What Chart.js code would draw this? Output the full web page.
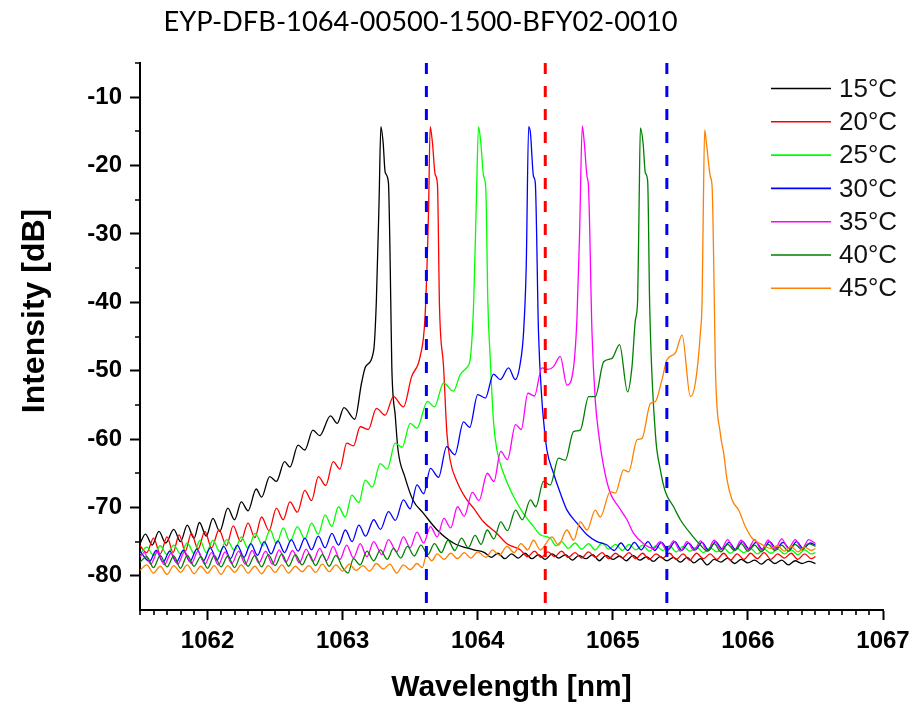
<!DOCTYPE html>
<html><head><meta charset="utf-8">
<script src="https://cdn.jsdelivr.net/npm/chart.js@4.4.1/dist/chart.umd.min.js"></script>
<style>html,body{margin:0;padding:0;background:#fff}canvas{display:block}</style>
</head><body>
<canvas id="c" width="920" height="706"></canvas>
<script>
const TITLE = 'EYP-DFB-1064-00500-1500-BFY02-0010';
const X_TITLE = 'Wavelength [nm]';
const Y_TITLE = 'Intensity [dB]';
const X_MIN = 1061.5, X_MAX = 1067, Y_MIN = -85, Y_MAX = -5;
const X_TICKS = [1062, 1063, 1064, 1065, 1066, 1067];
const Y_TICKS = [-80, -70, -60, -50, -40, -30, -20, -10];
const Y_MINOR = [-75, -65, -55, -45, -35, -25, -15, -5];
const X_MINOR_STEP = 0.1;
const MARKERS = [1063.62, 1064.5, 1065.4];
const LABELS = ['15°C', '20°C', '25°C', '30°C', '35°C', '40°C', '45°C'];

const S15 = [[1061.50,-75.3],[1061.54,-73.9],[1061.59,-75.5],[1061.64,-73.5],[1061.69,-75.2],[1061.75,-73.2],[1061.80,-75.0],[1061.85,-72.6],[1061.90,-74.5],[1061.94,-72.2],[1061.99,-74.2],[1062.04,-71.6],[1062.09,-73.5],[1062.15,-70.1],[1062.20,-71.8],[1062.25,-69.2],[1062.30,-70.5],[1062.36,-67.3],[1062.40,-68.5],[1062.46,-65.5],[1062.51,-66.2],[1062.57,-63.3],[1062.61,-64.1],[1062.67,-60.9],[1062.72,-61.6],[1062.78,-58.7],[1062.83,-59.5],[1062.91,-56.6],[1062.96,-57.7],[1063.01,-55.4],[1063.09,-57.1],[1063.14,-51.8],[1063.17,-49.4],[1063.23,-47.0],[1063.25,-39.6],[1063.27,-25.0],[1063.283,-14.3],[1063.30,-16.7],[1063.315,-21.0],[1063.339,-22.5],[1063.35,-32.0],[1063.356,-39.6],[1063.364,-49.4],[1063.39,-56.7],[1063.41,-61.6],[1063.46,-65.5],[1063.52,-68.9],[1063.60,-70.9],[1063.70,-73.3],[1063.82,-75.2],[1063.97,-76.2],[1064.05,-76.6],[1064.10,-77.3],[1064.15,-76.7],[1064.20,-77.5],[1064.25,-76.8],[1064.30,-77.4],[1064.35,-76.7],[1064.40,-77.5],[1064.45,-76.9],[1064.50,-77.6],[1064.55,-76.8],[1064.60,-77.4],[1064.65,-76.9],[1064.70,-77.7],[1064.75,-77.0],[1064.80,-77.5],[1064.85,-76.9],[1064.90,-77.8],[1064.95,-77.0],[1065.00,-77.6],[1065.05,-77.1],[1065.10,-77.8],[1065.15,-77.0],[1065.20,-77.7],[1065.25,-77.2],[1065.30,-77.9],[1065.35,-77.2],[1065.40,-77.8],[1065.45,-77.3],[1065.50,-78.0],[1065.55,-77.3],[1065.60,-78.1],[1065.65,-77.5],[1065.70,-78.4],[1065.75,-77.6],[1065.80,-78.0],[1065.85,-77.4],[1065.90,-78.2],[1065.95,-77.6],[1066.00,-78.1],[1066.05,-77.7],[1066.10,-78.3],[1066.15,-77.6],[1066.20,-78.2],[1066.25,-77.7],[1066.30,-78.4],[1066.35,-77.8],[1066.40,-78.2],[1066.45,-77.9],[1066.50,-78.2]];

const S20 = [[1061.50,-75.6],[1061.55,-76.6],[1061.60,-74.5],[1061.65,-76.8],[1061.70,-74.3],[1061.745,-76.6],[1061.79,-74.0],[1061.835,-76.4],[1061.88,-73.8],[1061.93,-76.1],[1061.98,-73.5],[1062.03,-75.9],[1062.085,-73.3],[1062.14,-75.6],[1062.19,-72.7],[1062.245,-75.0],[1062.30,-72.3],[1062.35,-74.4],[1062.40,-71.4],[1062.455,-73.4],[1062.51,-70.1],[1062.56,-71.8],[1062.61,-69.2],[1062.665,-70.7],[1062.72,-67.5],[1062.77,-69.0],[1062.82,-65.5],[1062.875,-66.8],[1062.93,-63.3],[1062.98,-64.4],[1063.03,-60.6],[1063.08,-61.0],[1063.13,-58.2],[1063.19,-58.6],[1063.25,-55.5],[1063.315,-56.5],[1063.376,-53.8],[1063.45,-55.3],[1063.51,-50.9],[1063.574,-47.9],[1063.61,-42.1],[1063.636,-26.5],[1063.648,-14.3],[1063.665,-16.7],[1063.685,-21.3],[1063.702,-22.8],[1063.717,-40.6],[1063.747,-49.4],[1063.772,-59.2],[1063.796,-63.1],[1063.846,-66.2],[1063.92,-68.9],[1063.969,-70.1],[1064.043,-72.1],[1064.142,-73.8],[1064.216,-75.3],[1064.315,-76.2],[1064.37,-77.2],[1064.42,-76.4],[1064.47,-77.3],[1064.52,-76.5],[1064.57,-77.2],[1064.62,-76.4],[1064.67,-77.3],[1064.72,-76.6],[1064.77,-77.4],[1064.82,-76.5],[1064.87,-77.3],[1064.92,-76.6],[1064.97,-77.5],[1065.02,-76.7],[1065.07,-77.4],[1065.12,-76.6],[1065.17,-77.5],[1065.22,-76.7],[1065.27,-77.6],[1065.32,-76.8],[1065.37,-77.4],[1065.42,-76.7],[1065.47,-77.6],[1065.52,-76.8],[1065.57,-77.7],[1065.62,-76.7],[1065.67,-77.5],[1065.72,-76.8],[1065.77,-77.6],[1065.82,-76.7],[1065.87,-77.7],[1065.92,-76.8],[1065.97,-77.6],[1066.02,-76.7],[1066.07,-77.5],[1066.12,-76.6],[1066.17,-77.6],[1066.22,-76.8],[1066.27,-77.4],[1066.32,-76.7],[1066.37,-77.6],[1066.42,-76.8],[1066.47,-77.5],[1066.50,-77.2]];

const S25 = [[1061.50,-76.8],[1061.55,-75.8],[1061.60,-77.0],[1061.65,-75.6],[1061.70,-76.9],[1061.75,-75.5],[1061.80,-76.8],[1061.85,-75.2],[1061.90,-76.7],[1061.944,-74.8],[1061.99,-76.6],[1062.04,-74.8],[1062.09,-76.5],[1062.142,-74.7],[1062.20,-76.3],[1062.25,-74.3],[1062.30,-76.0],[1062.352,-73.8],[1062.41,-75.6],[1062.463,-73.3],[1062.51,-75.3],[1062.561,-73.0],[1062.61,-75.0],[1062.665,-72.8],[1062.72,-74.6],[1062.77,-72.3],[1062.82,-73.9],[1062.87,-71.1],[1062.92,-72.8],[1062.969,-69.9],[1063.02,-71.4],[1063.068,-68.2],[1063.12,-69.3],[1063.167,-66.0],[1063.22,-67.0],[1063.278,-63.6],[1063.33,-64.4],[1063.389,-60.6],[1063.44,-61.2],[1063.50,-57.7],[1063.55,-58.4],[1063.628,-54.5],[1063.68,-55.3],[1063.747,-51.8],[1063.82,-53.0],[1063.87,-50.6],[1063.92,-49.5],[1063.945,-48.2],[1063.97,-40.0],[1063.99,-25.0],[1064.006,-14.3],[1064.023,-16.7],[1064.043,-21.5],[1064.06,-23.5],[1064.075,-40.0],[1064.093,-48.4],[1064.117,-57.5],[1064.142,-61.6],[1064.191,-65.0],[1064.265,-68.4],[1064.339,-70.9],[1064.413,-72.8],[1064.463,-74.0],[1064.537,-74.5],[1064.58,-75.6],[1064.62,-75.0],[1064.67,-76.0],[1064.72,-75.2],[1064.77,-76.1],[1064.82,-75.3],[1064.87,-76.2],[1064.92,-75.2],[1064.97,-76.1],[1065.02,-75.4],[1065.07,-76.3],[1065.12,-75.4],[1065.17,-76.2],[1065.22,-75.5],[1065.27,-76.4],[1065.32,-75.6],[1065.37,-76.3],[1065.42,-75.6],[1065.47,-76.5],[1065.52,-75.7],[1065.57,-76.4],[1065.62,-75.8],[1065.67,-76.6],[1065.72,-75.9],[1065.77,-76.5],[1065.82,-75.9],[1065.87,-76.7],[1065.92,-76.0],[1065.97,-76.6],[1066.02,-76.0],[1066.07,-76.8],[1066.12,-76.1],[1066.17,-76.7],[1066.22,-76.1],[1066.27,-76.8],[1066.32,-76.2],[1066.37,-76.9],[1066.42,-76.2],[1066.47,-76.8],[1066.50,-76.6]];

const S30 = [[1061.50,-76.4],[1061.57,-77.9],[1061.62,-76.3],[1061.67,-78.0],[1061.72,-76.4],[1061.77,-78.0],[1061.82,-76.3],[1061.87,-77.9],[1061.92,-76.1],[1061.97,-77.8],[1062.02,-75.9],[1062.07,-77.7],[1062.12,-75.7],[1062.17,-77.5],[1062.22,-75.5],[1062.27,-77.3],[1062.32,-75.3],[1062.37,-77.0],[1062.42,-75.0],[1062.47,-76.8],[1062.52,-74.9],[1062.57,-76.6],[1062.62,-74.7],[1062.67,-76.4],[1062.72,-74.5],[1062.77,-76.2],[1062.82,-74.2],[1062.87,-75.9],[1062.92,-73.8],[1062.97,-75.5],[1063.02,-73.3],[1063.07,-75.0],[1063.12,-72.6],[1063.17,-74.2],[1063.23,-71.8],[1063.28,-73.2],[1063.34,-70.6],[1063.39,-71.9],[1063.45,-68.9],[1063.50,-70.2],[1063.55,-66.7],[1063.60,-68.0],[1063.65,-64.3],[1063.71,-65.6],[1063.77,-61.1],[1063.83,-62.3],[1063.895,-57.5],[1063.94,-58.3],[1064.00,-53.5],[1064.056,-54.0],[1064.117,-50.5],[1064.167,-51.3],[1064.228,-49.6],[1064.278,-51.3],[1064.315,-48.9],[1064.339,-44.5],[1064.359,-34.8],[1064.377,-14.3],[1064.39,-15.2],[1064.413,-21.6],[1064.426,-22.5],[1064.45,-44.5],[1064.475,-54.3],[1064.487,-57.2],[1064.512,-61.6],[1064.561,-65.0],[1064.611,-67.9],[1064.661,-70.4],[1064.735,-72.3],[1064.809,-74.0],[1064.883,-75.0],[1064.957,-75.5],[1065.01,-76.3],[1065.06,-75.2],[1065.11,-76.3],[1065.16,-75.1],[1065.21,-76.2],[1065.26,-75.0],[1065.31,-76.3],[1065.36,-75.1],[1065.41,-76.2],[1065.46,-75.0],[1065.51,-76.3],[1065.56,-75.2],[1065.61,-76.2],[1065.66,-75.1],[1065.71,-76.3],[1065.76,-75.0],[1065.81,-76.1],[1065.86,-75.1],[1065.91,-76.2],[1065.96,-75.0],[1066.01,-76.1],[1066.06,-75.1],[1066.11,-76.2],[1066.16,-75.0],[1066.21,-76.0],[1066.26,-75.1],[1066.31,-76.1],[1066.36,-75.0],[1066.41,-76.0],[1066.46,-75.2],[1066.50,-75.5]];

const S35 = [[1061.50,-77.2],[1061.53,-76.6],[1061.58,-78.3],[1061.63,-76.5],[1061.68,-78.4],[1061.73,-76.7],[1061.78,-78.3],[1061.83,-76.5],[1061.88,-78.2],[1061.93,-76.4],[1061.98,-78.3],[1062.03,-76.6],[1062.08,-78.4],[1062.13,-76.5],[1062.18,-78.2],[1062.23,-76.4],[1062.28,-78.3],[1062.33,-76.3],[1062.38,-78.1],[1062.43,-76.4],[1062.48,-78.3],[1062.53,-76.2],[1062.58,-78.0],[1062.63,-76.3],[1062.68,-78.1],[1062.73,-76.1],[1062.78,-77.9],[1062.83,-76.0],[1062.88,-77.8],[1062.93,-75.7],[1062.98,-77.6],[1063.03,-75.5],[1063.08,-77.4],[1063.13,-75.3],[1063.18,-77.2],[1063.23,-75.0],[1063.29,-76.9],[1063.34,-74.7],[1063.40,-76.5],[1063.45,-74.3],[1063.50,-75.9],[1063.55,-73.6],[1063.60,-75.2],[1063.65,-72.8],[1063.70,-74.3],[1063.75,-71.6],[1063.80,-73.0],[1063.85,-69.9],[1063.90,-71.3],[1063.96,-67.8],[1064.01,-69.0],[1064.07,-65.0],[1064.12,-66.2],[1064.17,-61.8],[1064.22,-63.0],[1064.28,-57.9],[1064.322,-58.6],[1064.371,-53.3],[1064.42,-53.7],[1064.475,-49.6],[1064.52,-49.8],[1064.561,-49.4],[1064.611,-47.9],[1064.66,-52.1],[1064.71,-49.4],[1064.735,-42.1],[1064.754,-29.9],[1064.774,-14.2],[1064.789,-16.7],[1064.809,-21.6],[1064.82,-23.1],[1064.846,-44.5],[1064.87,-54.3],[1064.895,-59.2],[1064.932,-64.0],[1064.981,-67.9],[1065.043,-69.9],[1065.105,-71.8],[1065.154,-73.8],[1065.228,-75.3],[1065.302,-76.0],[1065.35,-75.0],[1065.40,-76.3],[1065.45,-74.9],[1065.50,-76.4],[1065.55,-75.0],[1065.60,-76.3],[1065.65,-74.9],[1065.70,-76.4],[1065.75,-74.8],[1065.80,-76.2],[1065.85,-74.7],[1065.90,-76.3],[1065.95,-74.8],[1066.00,-76.1],[1066.05,-74.7],[1066.10,-76.2],[1066.15,-74.8],[1066.20,-76.1],[1066.25,-74.6],[1066.30,-76.0],[1066.35,-74.7],[1066.40,-76.1],[1066.45,-74.7],[1066.50,-75.3]];

const S40 = [[1061.50,-78.0],[1061.55,-77.2],[1061.60,-78.8],[1061.65,-77.0],[1061.70,-78.7],[1061.75,-77.1],[1061.80,-78.9],[1061.85,-77.0],[1061.90,-78.6],[1061.95,-77.2],[1062.00,-78.9],[1062.05,-77.0],[1062.10,-78.7],[1062.15,-77.1],[1062.20,-78.8],[1062.25,-76.9],[1062.30,-78.6],[1062.35,-77.0],[1062.40,-78.7],[1062.45,-76.9],[1062.50,-78.5],[1062.55,-76.8],[1062.60,-78.6],[1062.65,-76.9],[1062.70,-78.4],[1062.75,-76.8],[1062.80,-78.5],[1062.85,-76.9],[1062.90,-78.6],[1062.95,-77.0],[1063.00,-78.8],[1063.04,-79.6],[1063.08,-77.5],[1063.13,-78.4],[1063.18,-76.4],[1063.23,-77.8],[1063.28,-76.2],[1063.33,-77.6],[1063.376,-76.0],[1063.43,-77.4],[1063.48,-75.7],[1063.53,-77.1],[1063.58,-75.5],[1063.63,-76.9],[1063.68,-75.3],[1063.73,-76.6],[1063.78,-74.8],[1063.83,-76.3],[1063.88,-74.5],[1063.93,-75.9],[1063.98,-74.1],[1064.025,-75.4],[1064.07,-73.3],[1064.12,-74.6],[1064.17,-72.1],[1064.22,-73.4],[1064.28,-70.4],[1064.33,-71.8],[1064.39,-68.9],[1064.43,-69.9],[1064.487,-66.2],[1064.537,-66.7],[1064.598,-62.8],[1064.648,-63.1],[1064.709,-58.9],[1064.759,-58.7],[1064.821,-53.8],[1064.87,-53.8],[1064.932,-48.7],[1064.994,-48.2],[1065.05,-46.2],[1065.109,-53.1],[1065.142,-49.4],[1065.167,-42.6],[1065.184,-39.6],[1065.195,-25.0],[1065.204,-14.5],[1065.224,-16.7],[1065.241,-21.1],[1065.258,-22.3],[1065.273,-40.6],[1065.315,-59.2],[1065.352,-64.5],[1065.389,-67.7],[1065.45,-69.9],[1065.50,-71.8],[1065.574,-73.8],[1065.648,-75.5],[1065.70,-76.4],[1065.75,-75.3],[1065.80,-76.5],[1065.85,-75.4],[1065.90,-76.3],[1065.95,-75.3],[1066.00,-76.4],[1066.05,-75.5],[1066.10,-76.5],[1066.15,-75.4],[1066.20,-76.3],[1066.25,-75.5],[1066.30,-76.4],[1066.35,-75.4],[1066.40,-76.2],[1066.45,-75.3],[1066.50,-75.7]];

const S45 = [[1061.50,-79.2],[1061.55,-78.4],[1061.60,-79.6],[1061.65,-78.6],[1061.70,-79.8],[1061.75,-78.5],[1061.80,-79.5],[1061.85,-78.4],[1061.90,-79.7],[1061.95,-78.6],[1062.00,-79.6],[1062.05,-78.5],[1062.10,-79.8],[1062.15,-78.5],[1062.20,-79.5],[1062.25,-78.4],[1062.30,-79.6],[1062.35,-78.6],[1062.40,-79.7],[1062.45,-78.5],[1062.50,-79.5],[1062.55,-78.4],[1062.60,-79.6],[1062.65,-78.6],[1062.70,-79.4],[1062.75,-78.5],[1062.80,-79.5],[1062.85,-78.3],[1062.90,-79.4],[1062.95,-78.4],[1063.00,-79.3],[1063.05,-78.3],[1063.10,-79.2],[1063.15,-78.5],[1063.20,-79.3],[1063.25,-78.2],[1063.30,-79.0],[1063.35,-78.3],[1063.40,-79.6],[1063.45,-78.4],[1063.50,-79.1],[1063.55,-78.2],[1063.59,-78.8],[1063.62,-77.0],[1063.66,-77.8],[1063.70,-76.8],[1063.75,-77.6],[1063.80,-76.7],[1063.85,-77.5],[1063.90,-76.6],[1063.95,-77.4],[1064.00,-76.5],[1064.06,-77.3],[1064.11,-76.2],[1064.16,-77.0],[1064.216,-75.7],[1064.27,-76.6],[1064.32,-75.3],[1064.37,-76.2],[1064.413,-74.8],[1064.463,-76.2],[1064.549,-74.3],[1064.598,-75.5],[1064.66,-73.3],[1064.71,-74.8],[1064.759,-72.1],[1064.809,-73.3],[1064.87,-70.4],[1064.907,-71.4],[1064.981,-67.7],[1065.019,-67.9],[1065.08,-64.5],[1065.117,-64.8],[1065.179,-60.1],[1065.216,-59.9],[1065.278,-54.8],[1065.315,-54.5],[1065.364,-51.3],[1065.401,-48.4],[1065.463,-47.4],[1065.513,-44.8],[1065.574,-53.8],[1065.611,-51.8],[1065.648,-44.5],[1065.661,-39.6],[1065.67,-26.0],[1065.68,-14.8],[1065.693,-16.7],[1065.722,-21.6],[1065.735,-23.1],[1065.752,-40.6],[1065.759,-49.4],[1065.796,-59.2],[1065.821,-62.1],[1065.846,-66.0],[1065.883,-68.9],[1065.932,-70.4],[1065.981,-72.8],[1066.031,-74.5],[1066.093,-75.3],[1066.167,-76.0],[1066.22,-75.6],[1066.27,-76.4],[1066.32,-75.7],[1066.37,-76.5],[1066.42,-75.8],[1066.47,-76.3],[1066.50,-76.0]];

const COLORS = ['#000000', '#ff0000', '#00ff00', '#0000ff', '#ff00ff', '#008000', '#ff8000'];
const MARKER_COLORS = ['#0000ff', '#ff0000', '#0000ff'];
const FONT = "'Liberation Sans', Arial, sans-serif";

const curves = [S15, S20, S25, S30, S35, S40, S45];
const datasets = curves.map((s, i) => ({
  label: LABELS[i],
  data: s.map(p => ({x: p[0], y: p[1]})),
  borderColor: COLORS[i],
  borderWidth: 1.3,
  pointRadius: 0,
  fill: false,
  cubicInterpolationMode: 'monotone',
  order: curves.length - i
}));
MARKERS.forEach((m, i) => datasets.push({
  label: '',
  data: [{x: m, y: Y_MAX}, {x: m, y: Y_MIN}],
  borderColor: MARKER_COLORS[i],
  borderWidth: 3,
  borderDash: [11, 12],
  pointRadius: 0,
  fill: false,
  order: 0
}));

const decor = {
  id: 'decor',
  afterDraw(chart) {
    const ctx = chart.ctx, xs = chart.scales.x, ys = chart.scales.y, a = chart.chartArea;
    ctx.save();
    // minor ticks
    ctx.strokeStyle = '#000'; ctx.lineWidth = 1.6;
    ctx.beginPath();
    for (let k = 0; k * X_MINOR_STEP <= X_MAX - X_MIN + 1e-9; k++) {
      const v = X_MIN + k * X_MINOR_STEP;
      if (Math.abs(v - Math.round(v)) < 1e-6) continue;
      const px = Math.round(xs.getPixelForValue(v));
      ctx.moveTo(px, a.bottom); ctx.lineTo(px, a.bottom + 5);
    }
    Y_MINOR.forEach(v => {
      const py = Math.round(ys.getPixelForValue(v));
      ctx.moveTo(a.left, py); ctx.lineTo(a.left - 5, py);
    });
    ctx.stroke();
    // legend
    const lx0 = 771, lx1 = 831, tx = 839, ly0 = 88.5, dy = 33.3;
    ctx.font = '26px ' + FONT;
    ctx.textBaseline = 'middle'; ctx.textAlign = 'left';
    LABELS.forEach((lab, i) => {
      const y = ly0 + i * dy;
      ctx.strokeStyle = COLORS[i]; ctx.lineWidth = 1.6;
      ctx.beginPath(); ctx.moveTo(lx0, y); ctx.lineTo(lx1, y); ctx.stroke();
      ctx.fillStyle = '#111';
      ctx.fillText(lab, tx, y + 1);
    });
    // y axis title
    ctx.save();
    ctx.translate(35, 311);
    ctx.rotate(-Math.PI / 2);
    ctx.font = 'bold 32px ' + FONT;
    ctx.fillStyle = '#000'; ctx.textAlign = 'center'; ctx.textBaseline = 'middle';
    ctx.fillText(Y_TITLE, 0, 0);
    ctx.restore();
    // title
    let fs = 30;
    ctx.font = fs + "px Lato, 'Open Sans', sans-serif";
    const w = ctx.measureText(TITLE).width;
    fs = fs * 515 / w;
    ctx.font = fs.toFixed(1) + "px Lato, 'Open Sans', sans-serif";
    ctx.fillStyle = '#000'; ctx.textAlign = 'center'; ctx.textBaseline = 'middle';
    ctx.fillText(TITLE, 420.5, 22);
    ctx.restore();
  }
};

new Chart(document.getElementById('c'), {
  type: 'line',
  data: { datasets },
  options: {
    responsive: false,
    animation: false,
    events: [],
    layout: { padding: { top: 63, right: 37, left: 0, bottom: 0 } },
    plugins: { legend: { display: false }, title: { display: false }, tooltip: { enabled: false } },
    scales: {
      x: {
        type: 'linear', min: X_MIN, max: X_MAX,
        afterFit: s => { s.height = 96; },
        afterBuildTicks: s => { s.ticks = X_TICKS.map(v => ({ value: v })); },
        ticks: { autoSkip: false, maxRotation: 0, padding: 7, color: '#000',
                 font: { family: FONT, size: 24, weight: 'bold' }, callback: v => String(v) },
        grid: { drawOnChartArea: false, drawTicks: true, tickLength: 10, tickWidth: 2, tickColor: '#000' },
        border: { display: true, color: '#000', width: 2 },
        title: { display: true, text: X_TITLE, color: '#000', padding: { top: 0, bottom: 0 },
                 font: { family: FONT, size: 30, weight: 'bold' } }
      },
      y: {
        type: 'linear', min: Y_MIN, max: Y_MAX,
        afterFit: s => { s.width = 140; },
        afterBuildTicks: s => { s.ticks = Y_TICKS.map(v => ({ value: v })); },
        ticks: { autoSkip: false, padding: 8, color: '#000',
                 font: { family: FONT, size: 24, weight: 'bold' }, callback: v => String(v) },
        grid: { drawOnChartArea: false, drawTicks: true, tickLength: 10, tickWidth: 2, tickColor: '#000' },
        border: { display: true, color: '#000', width: 2 },
        title: { display: false }
      }
    }
  },
  plugins: [decor]
});
</script>
</body></html>
